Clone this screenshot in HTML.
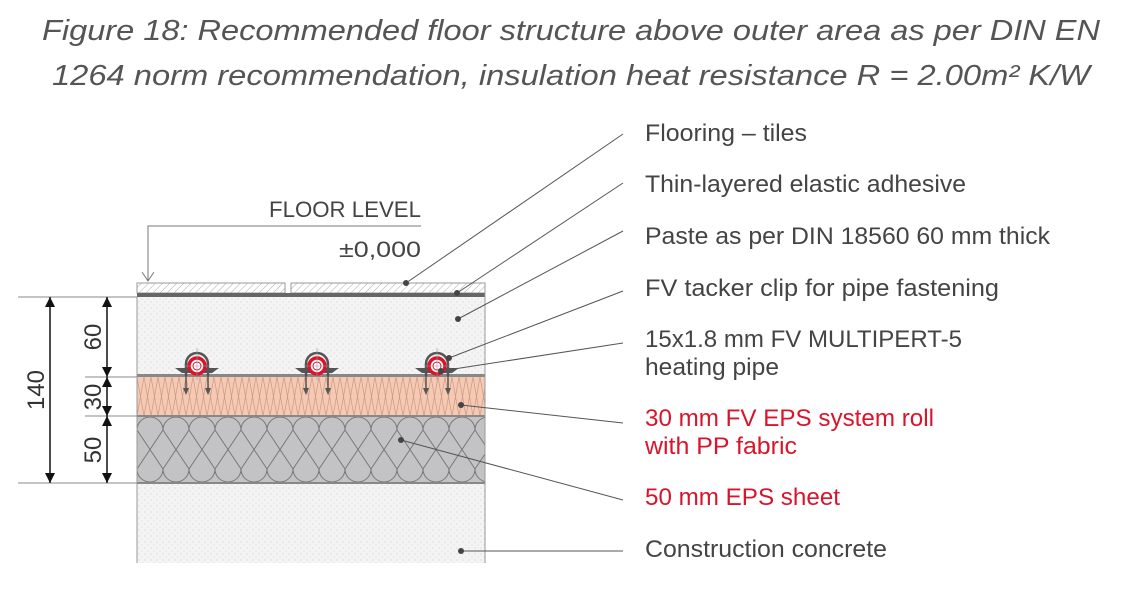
<!DOCTYPE html>
<html><head><meta charset="utf-8"><style>
html,body{margin:0;padding:0;background:#fff;width:1122px;height:597px;overflow:hidden}
svg text{font-family:"Liberation Sans",sans-serif}
</style></head><body>
<svg width="1122" height="597" viewBox="0 0 1122 597">
<defs>
<pattern id="hatch" width="5" height="5" patternUnits="userSpaceOnUse" patternTransform="rotate(45)">
<rect width="5" height="5" fill="#fff"/><line x1="0" y1="0" x2="0" y2="5" stroke="#aaa" stroke-width="1"/></pattern>
<pattern id="dots" width="6" height="6" patternUnits="userSpaceOnUse">
<rect width="6" height="6" fill="#f4f4f4"/><circle cx="1" cy="2" r="0.5" fill="#bbb"/><circle cx="4" cy="5" r="0.5" fill="#ccc"/></pattern>
<pattern id="roll" width="7" height="39" patternUnits="userSpaceOnUse" x="137" y="377">
<rect width="7" height="39" fill="#f6c9b3"/><path d="M0 39 L7 0 M0 0 L7 39" stroke="#c99a88" stroke-width="0.7" fill="none"/></pattern>
<pattern id="eps" width="26" height="67" patternUnits="userSpaceOnUse" x="137" y="416">
<rect width="26" height="67" fill="#c3c3c5"/>
<path d="M0 14 A13 13 0 0 1 26 14 M0 14 L26 53 M26 14 L0 53 M0 53 A13 13 0 0 0 26 53" stroke="#777" stroke-width="1" fill="none"/></pattern>
</defs>
<text x="571" y="40" text-anchor="middle" font-size="29" font-style="italic" fill="#555" textLength="1058" lengthAdjust="spacingAndGlyphs">Figure 18: Recommended floor structure above outer area as per DIN EN</text>
<text x="571" y="85" text-anchor="middle" font-size="29" font-style="italic" fill="#555" textLength="1038" lengthAdjust="spacingAndGlyphs">1264 norm recommendation, insulation heat resistance R = 2.00m² K/W</text>
<!-- layers -->
<rect x="137" y="297" width="348" height="80" fill="url(#dots)"/>
<rect x="137" y="377" width="348" height="39" fill="url(#roll)"/>
<rect x="137" y="416" width="348" height="67" fill="url(#eps)"/>
<rect x="137" y="483" width="348" height="80" fill="url(#dots)"/>
<rect x="137" y="283" width="148" height="10" fill="url(#hatch)" stroke="#999"/>
<rect x="291" y="283" width="194" height="10" fill="url(#hatch)" stroke="#999"/>
<rect x="137" y="293" width="348" height="4" fill="#666"/>
<rect x="137" y="374" width="348" height="3" fill="#888"/>
<line x1="137" y1="416" x2="485" y2="416" stroke="#888" stroke-width="2"/>
<line x1="137" y1="483" x2="485" y2="483" stroke="#888" stroke-width="2"/>
<line x1="137" y1="297" x2="137" y2="563" stroke="#999"/>
<line x1="485" y1="283" x2="485" y2="563" stroke="#999"/>
<!-- pipes -->
<g id="p">
<path d="M175 368 L219 368 L212 373 L182 373 Z" fill="#555"/>
<path d="M186 376 L186 364 A11 11 0 0 1 208 364 L208 376" fill="none" stroke="#555" stroke-width="2.5"/>
<line x1="186" y1="376" x2="186" y2="392" stroke="#555" stroke-width="1.5"/>
<line x1="208" y1="376" x2="208" y2="392" stroke="#555" stroke-width="1.5"/>
<path d="M183 388 L186 395 L189 388 Z M205 388 L208 395 L211 388 Z" fill="#555"/>
<circle cx="197" cy="366" r="8" fill="#fff" stroke="#d9142b" stroke-width="3.5"/>
<circle cx="197" cy="366" r="4" fill="none" stroke="#d9142b" stroke-width="1"/>
<line x1="197" y1="348" x2="197" y2="380" stroke="#999" stroke-width="0.6"/>
<line x1="185" y1="366" x2="209" y2="366" stroke="#999" stroke-width="0.6"/>
</g>
<use href="#p" x="120"/><use href="#p" x="240"/>
<!-- floor level -->
<text x="421" y="217" text-anchor="end" font-size="22" fill="#444" textLength="152" lengthAdjust="spacingAndGlyphs">FLOOR LEVEL</text>
<text x="421" y="257" text-anchor="end" font-size="22" fill="#444" textLength="82" lengthAdjust="spacingAndGlyphs">±0,000</text>
<path d="M421 226 L148 226 L148 281" fill="none" stroke="#777"/>
<path d="M142 272 L148 281 L154 272" fill="none" stroke="#777"/>
<!-- dimensions -->
<g stroke="#888" stroke-width="1">
<line x1="18" y1="297" x2="137" y2="297"/><line x1="18" y1="483" x2="137" y2="483"/>
<line x1="85" y1="377" x2="137" y2="377"/><line x1="85" y1="416" x2="137" y2="416"/>
</g>
<g stroke="#111" stroke-width="1.5">
<line x1="50" y1="297" x2="50" y2="483"/><line x1="107" y1="297" x2="107" y2="483"/>
</g>
<g fill="#111">
<path d="M45 307 L50 297 L55 307Z M45 473 L50 483 L55 473Z"/>
<path d="M102 307 L107 297 L112 307Z M102 367 L107 377 L112 367Z M102 387 L107 377 L112 387Z M102 406 L107 416 L112 406Z M102 426 L107 416 L112 426Z M102 473 L107 483 L112 473Z"/>
</g>
<g font-size="24" fill="#333">
<text transform="translate(44,390) rotate(-90)" text-anchor="middle">140</text>
<text transform="translate(101,337) rotate(-90)" text-anchor="middle">60</text>
<text transform="translate(101,397) rotate(-90)" text-anchor="middle">30</text>
<text transform="translate(101,450) rotate(-90)" text-anchor="middle">50</text>
</g>
<!-- leaders -->
<g stroke="#555" stroke-width="1">
<line x1="406" y1="283" x2="623" y2="134"/>
<line x1="457" y1="293" x2="623" y2="183"/>
<line x1="458" y1="319" x2="623" y2="231"/>
<line x1="449" y1="358" x2="623" y2="291"/>
<line x1="441" y1="371" x2="623" y2="343"/>
<line x1="461" y1="405" x2="623" y2="423"/>
<line x1="401" y1="440" x2="623" y2="500"/>
<line x1="461" y1="551" x2="623" y2="551"/>
</g>
<g fill="#444">
<circle cx="406" cy="283" r="3"/><circle cx="457" cy="293" r="3"/><circle cx="458" cy="319" r="3"/>
<circle cx="449" cy="358" r="3"/><circle cx="441" cy="371" r="3"/><circle cx="461" cy="405" r="3"/>
<circle cx="401" cy="440" r="3"/><circle cx="461" cy="551" r="3"/>
</g>
<g font-size="24" fill="#444">
<text x="645" y="141" textLength="162" lengthAdjust="spacingAndGlyphs">Flooring – tiles</text>
<text x="645" y="192" textLength="321" lengthAdjust="spacingAndGlyphs">Thin-layered elastic adhesive</text>
<text x="645" y="244" textLength="405" lengthAdjust="spacingAndGlyphs">Paste as per DIN 18560 60 mm thick</text>
<text x="645" y="296" textLength="354" lengthAdjust="spacingAndGlyphs">FV tacker clip for pipe  fastening</text>
<text x="645" y="347" textLength="317" lengthAdjust="spacingAndGlyphs">15x1.8 mm FV MULTIPERT-5</text>
<text x="645" y="375" textLength="134" lengthAdjust="spacingAndGlyphs">heating pipe</text>
<text x="645" y="426" fill="#d9142b" textLength="289" lengthAdjust="spacingAndGlyphs">30 mm FV EPS system roll</text>
<text x="645" y="454" fill="#d9142b" textLength="152" lengthAdjust="spacingAndGlyphs">with PP fabric</text>
<text x="645" y="505" fill="#d9142b" textLength="195" lengthAdjust="spacingAndGlyphs">50 mm EPS sheet</text>
<text x="645" y="557" textLength="242" lengthAdjust="spacingAndGlyphs">Construction concrete</text>
</g>
</svg>
</body></html>
